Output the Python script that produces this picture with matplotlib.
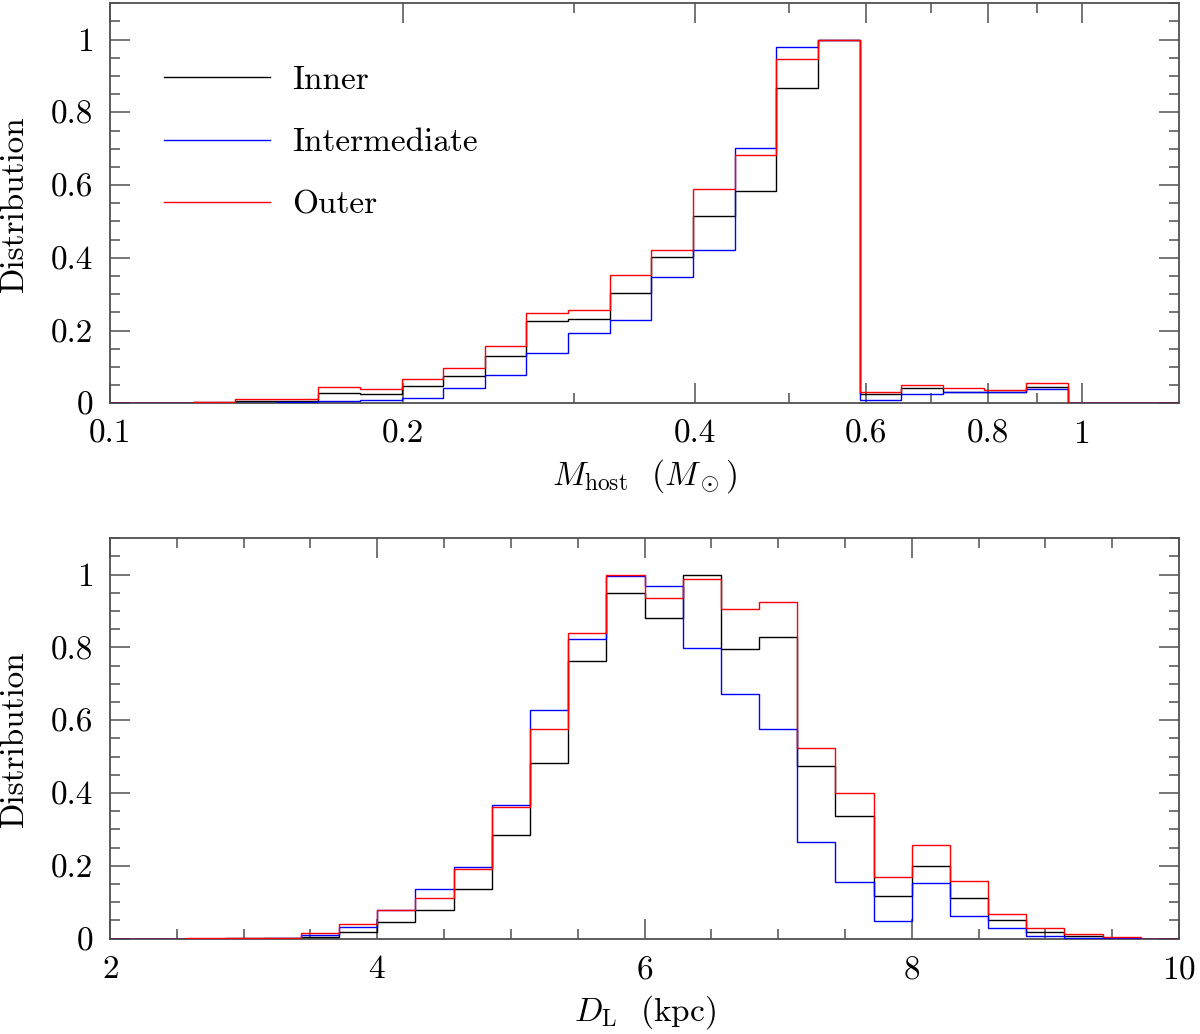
import numpy as np
import matplotlib
matplotlib.use("Agg")
import matplotlib.pyplot as plt
from matplotlib.ticker import FixedLocator, FixedFormatter, MultipleLocator, NullFormatter

plt.rcParams['font.family'] = ['cmr10', 'DejaVu Serif']
plt.rcParams['mathtext.fontset'] = 'cm'
plt.rcParams['axes.formatter.use_mathtext'] = True

# --- host mass histogram (bins uniform in log M, from 0.1 Msun) ---
logm_start = -1.0
logm_step = 0.04285
n_mass_bins = 26
mass_inner = [0.001, 0.001, 0.003, 0.006, 0.007, 0.027, 0.026, 0.048, 0.075, 0.130,
              0.227, 0.231, 0.304, 0.401, 0.516, 0.584, 0.868, 1.000,
              0.026, 0.043, 0.032, 0.030, 0.046, 0.0, 0.0, 0.0]
mass_inter = [0.0, 0.0, 0.001, 0.001, 0.003, 0.007, 0.010, 0.015, 0.043, 0.078,
              0.138, 0.194, 0.229, 0.347, 0.422, 0.702, 0.981, 1.000,
              0.009, 0.026, 0.030, 0.032, 0.040, 0.0, 0.0, 0.0]
mass_outer = [0.002, 0.002, 0.004, 0.011, 0.011, 0.044, 0.038, 0.068, 0.096, 0.158,
              0.248, 0.257, 0.353, 0.422, 0.590, 0.683, 0.947, 1.000,
              0.030, 0.050, 0.043, 0.037, 0.055, 0.0, 0.0, 0.0]

# --- lens distance histogram (35 bins between 0 and 10 kpc) ---
dist_lo, dist_hi, n_dist_bins = 0.0, 10.0, 35
dist_inner = [0] * 7 + [0.0, 0.0, 0.0, 0.001, 0.002, 0.004, 0.018, 0.045, 0.078, 0.137,
                        0.286, 0.484, 0.763, 0.951, 0.880, 1.000, 0.795, 0.830, 0.474, 0.338,
                        0.116, 0.199, 0.113, 0.051, 0.018, 0.006, 0.002, 0.0]
dist_inter = [0] * 7 + [0.0, 0.0, 0.0, 0.0, 0.001, 0.011, 0.033, 0.079, 0.137, 0.198,
                        0.367, 0.628, 0.823, 0.997, 0.970, 0.798, 0.671, 0.577, 0.265, 0.157,
                        0.049, 0.152, 0.062, 0.028, 0.008, 0.003, 0.002, 0.0]
dist_outer = [0] * 7 + [0.0, 0.0, 0.001, 0.001, 0.003, 0.015, 0.039, 0.079, 0.111, 0.192,
                        0.363, 0.575, 0.839, 1.000, 0.935, 0.988, 0.905, 0.926, 0.524, 0.399,
                        0.169, 0.257, 0.158, 0.069, 0.028, 0.012, 0.004, 0.0]

labels = ['Inner', 'Intermediate', 'Outer']
colors = ['black', 'blue', 'red']

mass_edges = 10 ** (logm_start + logm_step * np.arange(n_mass_bins + 1))
dist_edges = np.linspace(dist_lo, dist_hi, n_dist_bins + 1)

fs = 24
spine_col = '#505050'

fig = plt.figure(figsize=(12, 10.34), dpi=100)
ax1 = fig.add_axes([0.0917, 0.6100, 0.8908, 0.3868])
ax2 = fig.add_axes([0.0917, 0.0922, 0.8908, 0.3872])

# histograms go above the frame so the zero level shows in colour
for vals, c, lab in zip([mass_inner, mass_inter, mass_outer], colors, labels):
    ax1.stairs(vals, mass_edges, color=c, lw=1.0, label=lab, zorder=3)
for vals, c in zip([dist_inner, dist_inter, dist_outer], colors):
    ax2.stairs(vals, dist_edges, color=c, lw=1.0, zorder=3)

ax1.set_xscale('log')
ax1.set_xlim(0.1, 10 ** 0.1)
ax1.xaxis.set_major_locator(FixedLocator([0.1, 0.2, 0.4, 0.6, 0.8, 1.0]))
ax1.xaxis.set_major_formatter(FixedFormatter(['0.1', '0.2', '0.4', '0.6', '0.8', '1']))
ax1.xaxis.set_minor_locator(FixedLocator([0.3, 0.5, 0.7, 0.9]))
ax1.xaxis.set_minor_formatter(NullFormatter())
ax1.set_xlabel(r'$M_{\rm host}$  $(M_\odot)$', fontsize=fs, labelpad=6)

ax2.set_xlim(2, 10)
ax2.xaxis.set_major_locator(MultipleLocator(2))
ax2.xaxis.set_minor_locator(MultipleLocator(0.5))
ax2.set_xlabel(r'$D_{\rm L}$  (kpc)', fontsize=fs, labelpad=6)

for ax in (ax1, ax2):
    ax.set_ylim(0, 1.1)
    ax.yaxis.set_major_locator(FixedLocator([0, 0.2, 0.4, 0.6, 0.8, 1.0]))
    ax.yaxis.set_major_formatter(FixedFormatter(['0', '0.2', '0.4', '0.6', '0.8', '1']))
    ax.yaxis.set_minor_locator(MultipleLocator(0.05))
    ax.tick_params(which='both', direction='in', top=True, right=True,
                   color=spine_col, width=1.1, labelsize=fs)
    ax.tick_params(which='major', length=14.5, pad=12)
    ax.tick_params(which='minor', length=7.5)
    for s in ax.spines.values():
        s.set_color(spine_col)
        s.set_linewidth(1.3)
    ax.set_ylabel('Distribution', fontsize=fs)
    ax.yaxis.set_label_coords(-0.076, 0.5)

leg = ax1.legend(loc='upper left', bbox_to_anchor=(0.022, 0.92), frameon=False,
                 fontsize=fs, handlelength=3.2, handletextpad=0.65, labelspacing=1.0)
for h in leg.legend_handles:
    h.set_linewidth(1.0)

fig.savefig('out.png', dpi=100)
